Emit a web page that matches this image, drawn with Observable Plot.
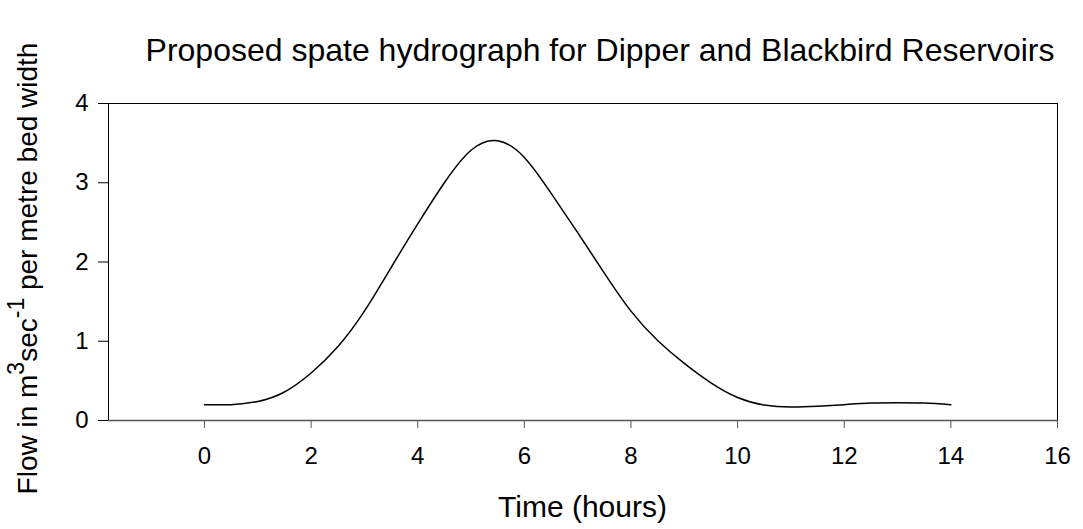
<!DOCTYPE html>
<html>
<head>
<meta charset="utf-8">
<script src="https://cdn.jsdelivr.net/npm/d3@7"></script>
<script src="https://cdn.jsdelivr.net/npm/@observablehq/plot@0.6"></script>
<style>
  html, body { margin: 0; padding: 0; background: white; }
</style>
</head>
<body>
<div id="chart"></div>
<script>
// Data
const hours = [0, 0.5, 1, 1.5, 2, 2.5, 3, 3.5, 4, 4.5, 5, 5.5, 6, 6.5, 7, 7.5, 8, 8.5, 9, 9.5, 10, 10.5, 11, 11.5, 12, 12.5, 13, 13.5, 14];
const flow  = [0.20, 0.20, 0.24, 0.36, 0.60, 0.93, 1.38, 1.93, 2.48, 3.00, 3.41, 3.53, 3.32, 2.87, 2.37, 1.86, 1.38, 1.01, 0.72, 0.475, 0.29, 0.195, 0.17, 0.18, 0.20, 0.22, 0.225, 0.22, 0.20];
const xTicks = [0, 2, 4, 6, 8, 10, 12, 14, 16];
const yTicks = [0, 1, 2, 3, 4];
const titleText = "Proposed spate hydrograph for Dipper and Blackbird Reservoirs";
const xLabel = "Time (hours)";

const data = hours.map((h, i) => ({hour: h, flow: flow[i]}));
const xMin = -1.8, xMax = 16, yMin = 0, yMax = 4;

const W = 1083, H = 529;
const chart = Plot.plot({
  width: W,
  height: H,
  marginLeft: 108,
  marginRight: 26,
  marginTop: 103,
  marginBottom: 109,
  style: {fontFamily: "'Liberation Sans', Arial, sans-serif", fontSize: "24px", color: "black", background: "white"},
  x: {domain: [xMin, xMax]},
  y: {domain: [yMin, yMax]},
  marks: [
    Plot.ruleY([yMax], {stroke: "black", strokeWidth: 1}),
    Plot.ruleX([xMin, xMax], {stroke: "black", strokeWidth: 1}),
    Plot.ruleY([yMin], {stroke: "#555", strokeWidth: 1.3}),
    Plot.axisX({ticks: xTicks, tickSize: 8, tickPadding: 18, label: null, tickFormat: d => String(d), stroke: "#555"}),
    Plot.axisY({ticks: yTicks, tickSize: 10, tickPadding: 10, label: null, tickFormat: d => String(d)}),
    Plot.line(data, {x: "hour", y: "flow", curve: "natural", stroke: "black", strokeWidth: 1.5})
  ]
});

document.getElementById("chart").appendChild(chart);

const svg = d3.select(chart);
const ff = "'Liberation Sans', Arial, sans-serif";

svg.append("text")
  .attr("x", 600).attr("y", 61)
  .attr("text-anchor", "middle")
  .attr("font-family", ff).attr("font-size", 32).attr("fill", "black")
  .text(titleText);

svg.append("text")
  .attr("x", 582.5).attr("y", 517)
  .attr("text-anchor", "middle")
  .attr("font-family", ff).attr("font-size", 30).attr("fill", "black")
  .text(xLabel);

const yl = svg.append("text")
  .attr("transform", "translate(37,268.5) rotate(-90)")
  .attr("text-anchor", "middle")
  .attr("font-family", ff).attr("font-size", 28).attr("fill", "black");
yl.append("tspan").text("Flow in m");
yl.append("tspan").attr("dy", -13).attr("font-size", 23).text("3");
yl.append("tspan").attr("dy", 13).text("sec");
yl.append("tspan").attr("dy", -13).attr("font-size", 23).text("-1");
yl.append("tspan").attr("dy", 13).text(" per metre bed width");
</script>
</body>
</html>
